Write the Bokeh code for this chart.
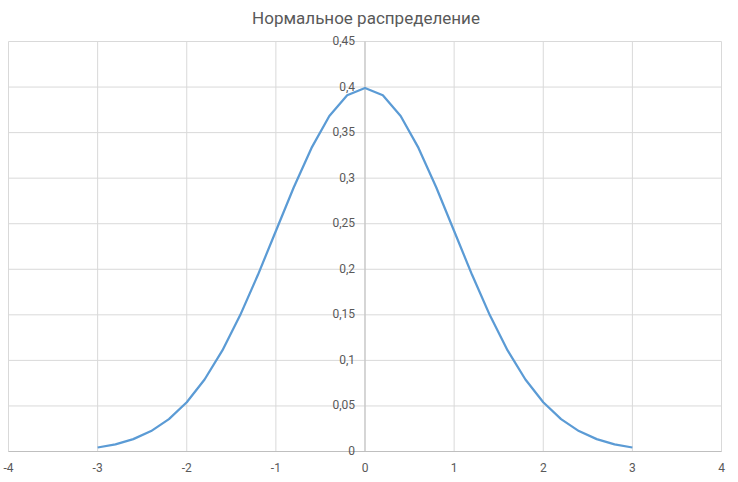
from bokeh.plotting import figure
from bokeh.models import Label, Range1d
from bokeh.embed import file_html
from bokeh.resources import INLINE

title = "Нормальное распределение"

x_vals = [-3.0, -2.8, -2.6, -2.4, -2.2, -2.0, -1.8, -1.6, -1.4, -1.2, -1.0,
          -0.8, -0.6, -0.4, -0.2, 0.0, 0.2, 0.4, 0.6, 0.8, 1.0,
          1.2, 1.4, 1.6, 1.8, 2.0, 2.2, 2.4, 2.6, 2.8, 3.0]
y_vals = [0.0044, 0.0079, 0.0136, 0.0224, 0.0355, 0.0540, 0.0790, 0.1109,
          0.1497, 0.1942, 0.2420, 0.2897, 0.3332, 0.3683, 0.3910, 0.3989,
          0.3910, 0.3683, 0.3332, 0.2897, 0.2420, 0.1942, 0.1497, 0.1109,
          0.0790, 0.0540, 0.0355, 0.0224, 0.0136, 0.0079, 0.0044]

x_ticks = [-4, -3, -2, -1, 0, 1, 2, 3, 4]
x_labels = ["-4", "-3", "-2", "-1", "0", "1", "2", "3", "4"]
y_ticks = [0, 0.05, 0.1, 0.15, 0.2, 0.25, 0.3, 0.35, 0.4, 0.45]
y_labels = ["0", "0,05", "0,1", "0,15", "0,2", "0,25", "0,3", "0,35", "0,4", "0,45"]

TEXT = "#595959"
GRID = "#d9d9d9"
AXIS = "#bfbfbf"
LINE = "#5b9bd5"

W, H = 730, 474
# plot box in pixels: x -4 -> 8, x 4 -> 721 ; y 0 -> 451, y 0.45 -> 41
px_x = (721 - 8) / (x_ticks[-1] - x_ticks[0])
px_y = (451 - 41) / (y_ticks[-1] - y_ticks[0])
xr = Range1d(x_ticks[0] - 8 / px_x, x_ticks[-1] + (W - 721) / px_x)
yr = Range1d(y_ticks[0] - (H - 451) / px_y, y_ticks[-1] + 41 / px_y)

p = figure(width=W, height=H, output_backend="svg", toolbar_location=None,
           x_range=xr, y_range=yr, x_axis_location=None, y_axis_location=None,
           min_border=0, min_border_left=0, min_border_right=0,
           min_border_top=0, min_border_bottom=0)
p.title.visible = False
p.outline_line_color = None
p.background_fill_color = "white"
p.border_fill_color = "white"
p.xgrid.visible = False
p.ygrid.visible = False

# grid lines
p.segment(x0=x_ticks, y0=[y_ticks[0]] * len(x_ticks), x1=x_ticks,
          y1=[y_ticks[-1]] * len(x_ticks), line_color=GRID, line_width=1)
p.segment(x0=[x_ticks[0]] * len(y_ticks), y0=y_ticks,
          x1=[x_ticks[-1]] * len(y_ticks), y1=y_ticks, line_color=GRID, line_width=1)
# axis lines
p.segment(x0=[x_ticks[0], 0], y0=[0, 0], x1=[x_ticks[-1], 0], y1=[0, y_ticks[-1]],
          line_color=AXIS, line_width=1)

p.line(x_vals, y_vals, line_color=LINE, line_width=2.25)

for yt, lab in zip(y_ticks, y_labels):
    p.add_layout(Label(x=0, y=yt, text=lab, x_offset=-10, y_offset=1,
                       text_align="right", text_baseline="middle",
                       text_font="Roboto", text_font_size="12px",
                       text_color=TEXT))
for xt, lab in zip(x_ticks, x_labels):
    p.add_layout(Label(x=xt, y=0, text=lab, x_offset=0, y_offset=-16,
                       text_align="center", text_baseline="middle",
                       text_font="Roboto", text_font_size="12px",
                       text_color=TEXT))

p.add_layout(Label(x=0, y=y_ticks[-1], text=title, x_offset=1, y_offset=24,
                   text_align="center", text_baseline="middle",
                   text_font="Roboto", text_font_size="17px",
                   text_color=TEXT))

open("out.html", "w").write(file_html(p, INLINE))
